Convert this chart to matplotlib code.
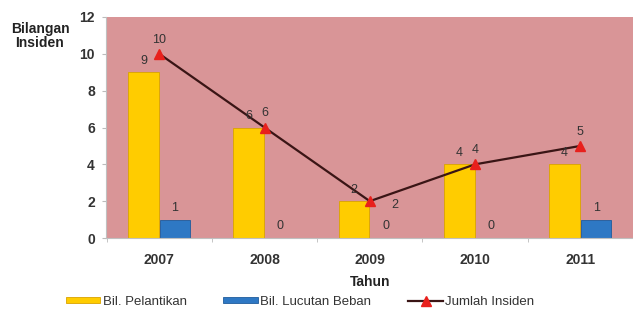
import matplotlib.pyplot as plt
import numpy as np

years = ['2007', '2008', '2009', '2010', '2011']
pelantikan = [9, 6, 2, 4, 4]
lucutan = [1, 0, 0, 0, 1]
jumlah = [10, 6, 2, 4, 5]

plt.rcParams['font.family'] = ['Liberation Sans', 'DejaVu Sans']

fig = plt.figure(figsize=(6.33, 3.11), dpi=100)
ax = fig.add_axes([106 / 633, 73 / 311, 527 / 633, 221 / 311])
ax.set_facecolor('#D99597')

x = np.arange(len(years))
w = 0.29
b1 = ax.bar(x - 0.15, pelantikan, w, color='#FFCC00', edgecolor='#D9A300', linewidth=0.6,
            label='Bil. Pelantikan', zorder=2)
b2 = ax.bar(x + 0.15, lucutan, w, color='#2E78C4', edgecolor='#1F5C9C', linewidth=0.6,
            label='Bil. Lucutan Beban', zorder=2)
ln, = ax.plot(x, jumlah, color='#3A1515', linewidth=1.6, marker='^', markersize=6.5,
              markerfacecolor='#E8201C', markeredgecolor='#E8201C', label='Jumlah Insiden', zorder=3)

lab = dict(fontsize=9, color='#333333', ha='center', va='bottom')
for xi, v in zip(x, pelantikan):
    ax.annotate(str(v), (xi - 0.15, v), xytext=(0, 4), textcoords='offset points', **lab)
for xi, v in zip(x, lucutan):
    ax.annotate(str(v), (xi + 0.15, v), xytext=(0, 4), textcoords='offset points', **lab)
for i, (xi, v) in enumerate(zip(x, jumlah)):
    if v == min(jumlah):
        ax.annotate(str(v), (xi, v), xytext=(18, -3), textcoords='offset points',
                    fontsize=9, color='#333333', ha='center', va='center')
    else:
        ax.annotate(str(v), (xi, v), xytext=(0, 6), textcoords='offset points', **lab)

ax.set_xlim(-0.506, 4.43)
ax.set_ylim(0, 12)
ax.set_yticks(range(0, 13, 2))
ax.set_xticks(x)
ax.set_xticklabels(years, fontweight='bold', fontsize=10, color='#333333')
ax.set_xticks(np.arange(-0.5, 4.6, 1), minor=True)
ax.tick_params(axis='x', which='major', length=0, pad=11)
ax.tick_params(axis='x', which='minor', length=3, color='#BBBBBB')
ax.tick_params(axis='y', length=3, color='#BBBBBB', labelsize=10, labelcolor='#333333', pad=5)
for t in ax.get_yticklabels():
    t.set_fontweight('bold')
for s in ['top', 'right']:
    ax.spines[s].set_visible(False)
for s in ['left', 'bottom']:
    ax.spines[s].set_color('#C0C0C0')

fig.text(370 / 633, 1 - 282 / 311, 'Tahun', fontsize=10, fontweight='bold', ha='center',
         va='center', color='#222222')
fig.text(40 / 633, 1 - 36 / 311, 'Bilangan\nInsiden', fontsize=10, fontweight='bold',
         ha='center', va='center', color='#222222', linespacing=1.05)

fig.legend(handles=[b1, b2, ln], loc='center', bbox_to_anchor=(300 / 633, 1 - 302 / 311),
           ncol=3, frameon=False, fontsize=9.5, handlelength=2.6, handleheight=0.3,
           columnspacing=2.8, handletextpad=0.2, labelcolor='#333333')

fig.savefig('out.png', dpi=100, facecolor='white')
